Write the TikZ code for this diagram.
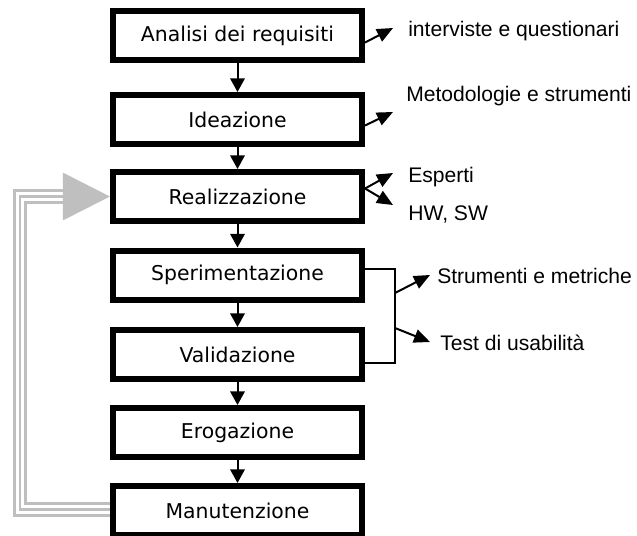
\documentclass[tikz,border=0pt]{standalone}
\usepackage{fontspec}
\setmainfont{Liberation Sans}
\newfontfamily\boxfont{DejaVu Sans}
\usetikzlibrary{arrows.meta,calc}

\tikzset{
  fase/.style={draw, line width=0.15cm, minimum width=6.225cm, minimum height=1.225cm,
    inner sep=0pt, font=\boxfont\fontsize{14.5}{16}\selectfont},
  nota/.style={anchor=west, inner sep=0pt, font=\fontsize{15}{17}\selectfont},
  freccia/.style={line width=0.05cm, -{Triangle[length=0.34cm,width=0.36cm]}},
  lato/.style={line width=0.05cm, -{Triangle[length=0.4cm,width=0.34cm]}},
  ritorno/.style={draw=gray!50, line width=0.07cm, double=white, double distance=0.22cm}
}

\begin{document}
\begin{tikzpicture}[x=0.025cm, y=-0.025cm]
\useasboundingbox (0,0) rectangle (637,535);
% fasi
\node[fase] (analisi) at (237.5,35.5) {Analisi dei requisiti};
\node[fase] (ideazione) at (237.5,119.5) {Ideazione};
\node[fase] (realizzazione) at (237.5,196.5) {Realizzazione};
\node[fase] (sperim) at (237.5,275) {Sperimentazione};
\node[fase] (validaz) at (237.5,354.5) {Validazione};
\node[fase] (erogaz) at (237.5,432.5) {Erogazione};
\node[fase] (manut) at (237.5,510.5) {Manutenzione};
\draw[freccia] (analisi) -- (ideazione);
\draw[freccia] (ideazione) -- (realizzazione);
\draw[freccia] (realizzazione) -- (sperim);
\draw[freccia] (sperim) -- (validaz);
\draw[freccia] (validaz) -- (erogaz);
\draw[freccia] (erogaz) -- (manut);
% note
\node[nota] (interviste) at (408,31) {interviste e questionari};
\node[nota] (metodologie) at (406,96) {Metodologie e strumenti};
\node[nota] (esperti) at (408,177) {Esperti};
\node[nota] (hwsw) at (408,214) {HW, SW};
\node[nota] (strumenti) at (437,276) {Strumenti e metriche};
\node[nota] (test) at (440,343) {Test di usabilità};
\coordinate (tA) at (393,28);
\coordinate (tB) at (393,112);
\coordinate (tC) at (393,173);
\coordinate (tD) at (393,205);
\coordinate (tE) at (430,275);
\coordinate (tF) at (430,342);
\draw[lato] ($(analisi.east)+(0,7)$) -- (tA);
\draw[lato] ($(ideazione.east)+(0,6)$) -- (tB);
\draw[lato] ($(realizzazione.east)+(0,-8)$) -- (tC);
\draw[lato] ($(realizzazione.east)+(0,-8)$) -- (tD);
% parentesi
\coordinate (gr) at (395,0);
\draw[line width=0.04cm] ($(sperim.east)+(0,-6)$) -| ($(validaz.east -| gr)+(0,8.5)$) -- ($(validaz.east)+(0,8.5)$);
\draw[lato] (395,293) -- (tE);
\draw[lato] (395,328) -- (tF);
% ritorno
\coordinate (loop) at (20,0);
\draw[ritorno, shorten >=1.15cm] ($(manut.west)+(0,-1)$) -- ($(manut.west -| loop)+(0,-1)$) |- (realizzazione.west);
\draw[gray!50, line width=0.07cm, -{Triangle[length=1.175cm,width=1.175cm]}]
  ($(manut.west)+(0,-1)$) -- ($(manut.west -| loop)+(0,-1)$) |- (realizzazione.west);
\end{tikzpicture}
\end{document}
